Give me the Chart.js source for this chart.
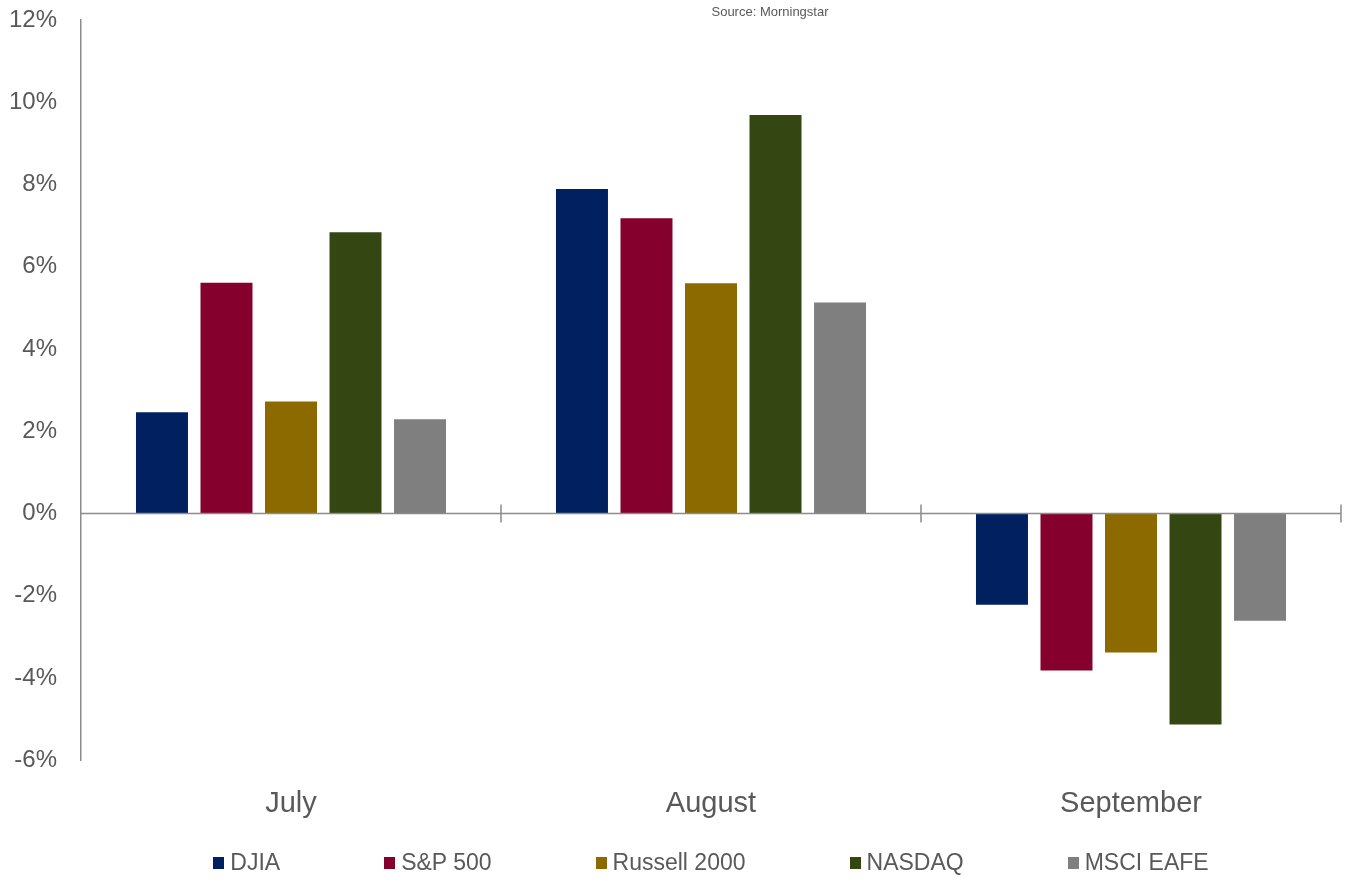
<!DOCTYPE html>
<html>
<head>
<meta charset="utf-8">
<script src="https://cdn.jsdelivr.net/npm/chart.js@4/dist/chart.umd.min.js"></script>
<style>
  html, body { margin: 0; padding: 0; background: #ffffff; }
  #wrap { position: relative; width: 1352px; height: 881px; }
  canvas { display: block; }
  #legend { position: absolute; left: 81px; width: 1260px; top: 849px; display: flex; justify-content: center; gap: 104px;
            font-family: "Liberation Sans", Arial, sans-serif; font-size: 23px; color: #595959; }
  #legend .item { display: flex; align-items: center; white-space: nowrap; }
  #legend .box { width: 11px; height: 12px; margin-right: 6px; }
</style>
</head>
<body>
<div id="wrap">
  <canvas id="c" width="1352" height="881"></canvas>
  <div id="legend"></div>
</div>
<script>
const categories = ["July", "August", "September"];
const seriesNames = ["DJIA", "S&P 500", "Russell 2000", "NASDAQ", "MSCI EAFE"];
const djia = [2.46, 7.89, -2.22];
const sp500 = [5.61, 7.18, -3.82];
const russell2000 = [2.72, 5.60, -3.38];
const nasdaq = [6.84, 9.69, -5.13];
const msciEafe = [2.29, 5.13, -2.61];
const seriesColors = ["#002060", "#85002D", "#8C6A00", "#344611", "#7F7F7F"];
const yMin = -6, yMax = 12, yStep = 2;
const sourceNote = "Source: Morningstar";

const seriesValues = [djia, sp500, russell2000, nasdaq, msciEafe];
const textColor = "#595959";
const axisColor = "#8C8C8C";
const fontFamily = '"Liberation Sans", Arial, sans-serif';

const axisPlugin = {
  id: 'zeroAxis',
  afterDatasetsDraw(chart) {
    const {ctx, chartArea, scales} = chart;
    const x = scales.x, y = scales.y;
    const y0 = y.getPixelForValue(0);
    ctx.save();
    ctx.strokeStyle = axisColor;
    ctx.lineWidth = 1.5;
    ctx.beginPath();
    ctx.moveTo(chartArea.left, y0);
    ctx.lineTo(chartArea.right, y0);
    const n = x.ticks.length;
    for (let i = 0; i < n; i++) {
      let bx;
      if (i < n - 1) bx = (x.getPixelForTick(i) + x.getPixelForTick(i + 1)) / 2;
      else bx = chartArea.right;
      ctx.moveTo(bx, y0 - 9);
      ctx.lineTo(bx, y0 + 9);
    }
    ctx.stroke();
    ctx.restore();
  },
  afterDraw(chart) {
    const {ctx, chartArea} = chart;
    ctx.save();
    ctx.fillStyle = textColor;
    ctx.font = '13px ' + fontFamily;
    ctx.textAlign = 'center';
    ctx.textBaseline = 'middle';
    ctx.fillText(sourceNote, (chartArea.left + chartArea.right) / 2 + 59, 12);
    ctx.restore();
  }
};

const chart = new Chart(document.getElementById('c'), {
  type: 'bar',
  data: {
    labels: categories,
    datasets: seriesNames.map((name, i) => ({
      label: name,
      data: seriesValues[i],
      backgroundColor: seriesColors[i],
      borderWidth: 0,
      categoryPercentage: 0.768,
      barPercentage: 0.806
    }))
  },
  options: {
    responsive: false,
    animation: false,
    layout: { padding: { left: 9, right: 11, top: 20, bottom: 34 } },
    plugins: {
      legend: { display: false },
      title: { display: false },
      tooltip: { enabled: false }
    },
    scales: {
      x: {
        grid: { display: false, drawTicks: false },
        border: { display: false },
        ticks: { color: textColor, font: { family: fontFamily, size: 29 }, padding: 26 }
      },
      y: {
        min: yMin, max: yMax,
        grid: { display: false, drawTicks: true, tickLength: 24 },
        border: { display: true, color: axisColor, width: 1.5 },
        afterFit(scale) { scale.width = 72; },
        ticks: {
          stepSize: yStep,
          color: textColor,
          font: { family: fontFamily, size: 24 },
          padding: 0,
          callback: v => v + '%'
        }
      }
    }
  },
  plugins: [axisPlugin]
});

const legendEl = document.getElementById('legend');
chart.data.datasets.forEach(ds => {
  const item = document.createElement('div');
  item.className = 'item';
  const box = document.createElement('span');
  box.className = 'box';
  box.style.background = ds.backgroundColor;
  const label = document.createElement('span');
  label.textContent = ds.label;
  item.appendChild(box);
  item.appendChild(label);
  legendEl.appendChild(item);
});
</script>
</body>
</html>
